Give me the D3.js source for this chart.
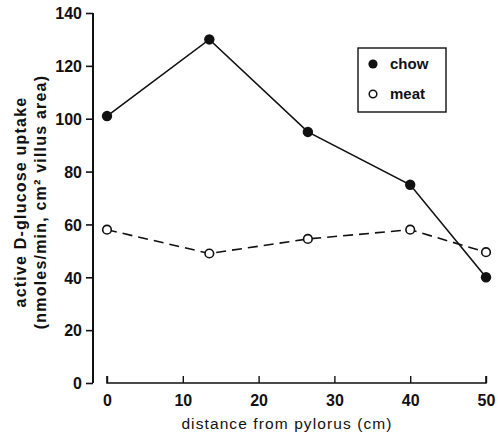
<!DOCTYPE html>
<html>
<head>
<meta charset="utf-8">
<script src="https://cdn.jsdelivr.net/npm/d3@7"></script>
<style>
  body { margin: 0; background: #fff; }
  text { font-family: "Liberation Sans", Arial, sans-serif; fill: #111; }
</style>
</head>
<body>
<script>
// data
var distance = [0, 13.5, 26.5, 40, 50];
var chow = [101, 130, 95, 75, 40];
var meat = [58, 49, 54.5, 58, 49.5];
var xTicks = [0, 10, 20, 30, 40, 50];
var yTicks = [0, 20, 40, 60, 80, 100, 120, 140];

var width = 498, height = 439;

var svg = d3.select("body").append("svg")
    .attr("width", width)
    .attr("height", height);

// scales
var xScale = d3.scaleLinear().domain([0, 50]).range([107, 486]);
var yScale = d3.scaleLinear().domain([0, 140]).range([383, 13]);

// y axis
var yAxis = d3.axisLeft(yScale).tickValues(yTicks).tickSize(7).tickPadding(4);
var gy = svg.append("g").attr("transform", "translate(93,0)").call(yAxis);
gy.select(".domain").attr("d", "M0," + yScale(140) + "V" + yScale(0)).attr("stroke", "#111").attr("stroke-width", 2);
gy.selectAll(".tick line").attr("stroke", "#111").attr("stroke-width", 1.6);
gy.selectAll(".tick text").style("font-size", "16px").style("font-weight", "bold").attr("dy", "0.36em");

// x axis, ticks pointing up
var xAxis = d3.axisBottom(xScale).tickValues(xTicks).tickSize(-7).tickPadding(12);
var gx = svg.append("g").attr("transform", "translate(0,383)").call(xAxis);
gx.select(".domain").attr("d", "M" + xScale(0) + ",-7V0H" + xScale(50) + "V-7").attr("stroke", "#111").attr("stroke-width", 1.6);
gx.selectAll(".tick line").attr("stroke", "#111").attr("stroke-width", 1.4);
gx.selectAll(".tick text").style("font-size", "16px").style("font-weight", "bold");

// axis titles
svg.append("text")
    .attr("x", 287)
    .attr("y", 429)
    .attr("text-anchor", "middle")
    .style("font-size", "15.5px")
    .style("letter-spacing", "1.1px")
    .text("distance from pylorus (cm)");

var yTitle = svg.append("text")
    .attr("transform", "translate(0,202) rotate(-90)")
    .attr("text-anchor", "middle")
    .style("font-size", "16px")
    .style("font-weight", "bold")
    .style("letter-spacing", "1.2px");
yTitle.append("tspan").attr("x", 0).attr("y", 26).text("active D-glucose uptake");
yTitle.append("tspan").attr("x", 0).attr("y", 46).text("(nmoles/min, cm\u00B2 villus area)");

// lines
var line = d3.line()
    .x(function (d, i) { return xScale(distance[i]); })
    .y(function (d) { return yScale(d); });

svg.append("path")
    .datum(chow)
    .attr("d", line)
    .attr("fill", "none")
    .attr("stroke", "#111")
    .attr("stroke-width", 1.6);

svg.append("path")
    .datum(meat)
    .attr("d", line)
    .attr("fill", "none")
    .attr("stroke", "#111")
    .attr("stroke-width", 1.6)
    .attr("stroke-dasharray", "10,6");

// markers
svg.selectAll(".chowDot")
    .data(chow)
    .enter().append("circle")
    .attr("class", "chowDot")
    .attr("cx", function (d, i) { return xScale(distance[i]); })
    .attr("cy", function (d) { return yScale(d); })
    .attr("r", 5.2)
    .attr("fill", "#111");

svg.selectAll(".meatDot")
    .data(meat)
    .enter().append("circle")
    .attr("class", "meatDot")
    .attr("cx", function (d, i) { return xScale(distance[i]); })
    .attr("cy", function (d) { return yScale(d); })
    .attr("r", 4.3)
    .attr("fill", "#fff")
    .attr("stroke", "#111")
    .attr("stroke-width", 1.6);

// legend
var legend = svg.append("g");
legend.append("rect")
    .attr("x", 358).attr("y", 48)
    .attr("width", 88).attr("height", 64)
    .attr("fill", "none")
    .attr("stroke", "#111")
    .attr("stroke-width", 1.4);
legend.append("circle").attr("cx", 373).attr("cy", 64).attr("r", 4.6).attr("fill", "#111");
legend.append("circle").attr("cx", 373).attr("cy", 94).attr("r", 3.8)
    .attr("fill", "#fff").attr("stroke", "#111").attr("stroke-width", 1.5);
legend.append("text").attr("x", 390).attr("y", 69).style("font-size", "15px").style("font-weight", "bold").text("chow");
legend.append("text").attr("x", 390).attr("y", 99).style("font-size", "15px").style("font-weight", "bold").text("meat");
</script>
</body>
</html>
